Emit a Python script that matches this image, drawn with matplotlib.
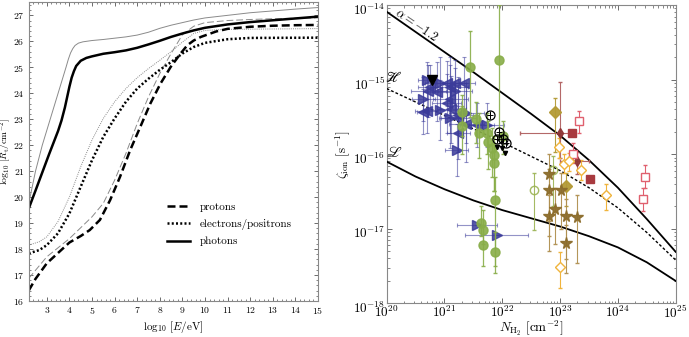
import numpy as np
import matplotlib
matplotlib.use("Agg")
import matplotlib.pyplot as plt
from matplotlib.ticker import MultipleLocator, LogLocator, NullFormatter, FixedLocator
from matplotlib.lines import Line2D
from matplotlib.transforms import ScaledTranslation

plt.rcParams['font.family'] = 'serif'
plt.rcParams['font.serif'] = ['cmr10', 'DejaVu Serif']
plt.rcParams['mathtext.fontset'] = 'cm'
plt.rcParams['axes.formatter.use_mathtext'] = True
plt.rcParams['axes.unicode_minus'] = False

# ---------------- Left panel data (log10 E [eV], log10 R [cm^-2]) ----------------
ph_thick_x = [2.2, 2.5, 2.8, 3.1, 3.3, 3.5, 3.65, 3.8, 3.9, 4.0, 4.1, 4.2, 4.3, 4.5, 4.75, 5.0, 5.5, 6.0, 6.5, 7.0, 7.5, 8.0, 8.5, 9.0, 9.5, 10, 11, 12, 13, 14, 15]
ph_thick_y = [19.56, 20.25, 20.95, 21.65, 22.1, 22.55, 22.95, 23.45, 23.85, 24.25, 24.6, 24.85, 25.05, 25.25, 25.36, 25.42, 25.52, 25.58, 25.65, 25.75, 25.88, 26.02, 26.17, 26.3, 26.42, 26.52, 26.65, 26.74, 26.81, 26.88, 26.95]
ph_thin_x = [2.2, 2.5, 2.8, 3.15, 3.5, 3.85, 3.95, 4.05, 4.15, 4.25, 4.4, 4.6, 5.0, 5.5, 6.0, 6.5, 7.0, 7.5, 8.0, 8.5, 9.0, 9.5, 10, 11, 12, 13, 14, 15]
ph_thin_y = [19.75, 21.0, 22.0, 23.0, 24.0, 25.0, 25.3, 25.55, 25.72, 25.84, 25.93, 25.98, 26.03, 26.07, 26.12, 26.17, 26.24, 26.35, 26.5, 26.62, 26.72, 26.82, 26.9, 27.0, 27.1, 27.17, 27.24, 27.3]
pr_thick_x = [2.2, 2.5, 3.0, 3.5, 4.0, 4.5, 4.9, 5.35, 5.8, 6.24, 6.69, 7.14, 7.58, 8.03, 8.48, 8.92, 9.22, 9.5, 9.82, 10.5, 11, 12, 13, 14, 15]
pr_thick_y = [16.4, 16.85, 17.45, 17.85, 18.25, 18.5, 18.73, 19.12, 19.88, 20.78, 21.81, 22.71, 23.6, 24.37, 25.01, 25.53, 25.85, 26.03, 26.17, 26.38, 26.48, 26.56, 26.6, 26.62, 26.63]
pr_thin_x = [2.2, 3.0, 4.0, 5.0, 5.5, 6.0, 6.5, 7.0, 7.5, 8.0, 8.5, 9.0, 9.5, 10, 11, 12, 13, 14, 15]
pr_thin_y = [16.87, 17.7, 18.4, 19.24, 19.76, 20.65, 21.68, 22.83, 23.86, 24.76, 25.53, 26.25, 26.58, 26.72, 26.8, 26.84, 26.87, 26.89, 26.9]
el_thick_x = [2.2, 2.67, 3.0, 3.49, 4.0, 4.5, 5.0, 5.5, 6.0, 6.5, 7.0, 7.5, 8.0, 8.5, 9.0, 9.5, 10, 11, 12, 15]
el_thick_y = [17.83, 17.96, 18.15, 18.6, 19.37, 20.4, 21.42, 22.32, 23.03, 23.67, 24.18, 24.56, 24.9, 25.2, 25.53, 25.78, 25.94, 26.08, 26.13, 26.14]
el_thin_x = [2.2, 2.67, 3.0, 3.49, 4.0, 4.5, 5.0, 5.5, 6.0, 6.5, 7.0, 7.5, 8.0, 8.5, 9.0, 9.5, 10, 11, 15]
el_thin_y = [18.15, 18.28, 18.47, 19.05, 20.0, 21.17, 22.2, 23.03, 23.67, 24.18, 24.6, 24.95, 25.27, 25.6, 25.97, 26.3, 26.42, 26.46, 26.49]

legend_labels = ["protons", "electrons/positrons", "photons"]

# ---------------- Right panel data (log10 values) ----------------
alpha_logN = [20.0, 20.5, 21.0, 21.5, 22.0, 22.5, 23.0, 23.5, 24.0, 24.25, 24.5, 24.75, 25.0]
alpha_logz = [-14.09, -14.36, -14.63, -14.90, -15.18, -15.46, -15.75, -16.08, -16.45, -16.66, -16.87, -17.09, -17.31]
H_logN = [20.0, 21.0, 22.0, 22.5, 23.0, 23.5, 24.0, 24.5, 25.0]
H_logz = [-15.12, -15.48, -15.84, -16.03, -16.22, -16.45, -16.72, -17.05, -17.42]
L_logN = [20.0, 20.5, 21.0, 21.5, 22.0, 22.5, 23.0, 23.5, 24.0, 24.5, 25.0]
L_logz = [-16.10, -16.30, -16.47, -16.62, -16.75, -16.86, -16.97, -17.10, -17.25, -17.45, -17.70]

x_major_exp = [20, 21, 22, 23, 24, 25]
y_major_exp = [-18, -17, -16, -15, -14]

# blue triangles
blue_logN = [20.70, 20.75, 20.92, 21.05, 21.10, 21.18, 21.33, 20.63, 20.72, 20.87, 21.10, 21.18, 20.69, 20.92, 21.12,
             21.24, 21.38, 21.10, 21.24, 21.38, 21.56, 21.73, 21.24, 21.21, 21.56, 21.90, 21.04, 20.63]
blue_logz = [-15.01, -15.10, -15.04, -15.05, -15.10, -15.04, -15.05, -15.26, -15.15, -15.16, -15.26, -15.15, -15.42, -15.41, -15.40,
             -15.47, -15.45, -15.52, -15.52, -15.60, -15.61, -15.61, -15.71, -15.94, -16.95, -17.08, -15.32, -15.43]
blue_mark = ['>', '<', '>', '<', '<', '<', '<', '>', '<', '<', '<', '>', '<', '>', '<',
             '<', '>', '>', '<', '<', '<', '>', '<', '>', '>', '>', '<', '<']
blue_xerr = [0.15, 0.2, 0.25, 0.2, 0.3, 0.2, 0.2, 0.2, 0.3, 0.25, 0.3, 0.3, 0.2, 0.3, 0.25,
             0.25, 0.3, 0.2, 0.3, 0.3, 0.3, 0.3, 0.2, 0.2, 0.35, 0.55, 0.25, 0.1]
blue_yerr = [0.25, 0.3, 0.35, 0.3, 0.4, 0.3, 0.35, 0.3, 0.35, 0.4, 0.45, 0.3, 0.3, 0.4, 0.45,
             0.5, 0.4, 0.4, 0.45, 0.5, 0.3, 0.3, 0.35, 0.35, 0.0, 0.0, 0.4, 0.3]

# green filled circles
green_logN = [21.45, 21.94, 21.31, 21.31, 21.55, 21.59, 21.73, 21.76, 21.82, 21.85, 21.86, 22.01, 21.88, 21.63, 21.66, 21.67, 21.87]
green_logz = [-14.83, -14.74, -15.43, -15.62, -15.53, -15.72, -15.72, -15.83, -15.92, -16.01, -16.12, -15.75, -16.61, -16.92, -17.02, -17.22, -17.31]
green_lo = [-15.50, -15.80, -15.75, -16.00, -15.85, -16.05, -16.0, -16.2, -16.3, -16.5, -16.5, -16.0, -17.5, -17.1, -17.2, -17.5, -17.6]
green_hi = [-14.35, -14.00, -15.20, -15.35, -15.30, -15.45, -15.45, -15.55, -15.65, -15.75, -15.85, -15.55, -16.30, -16.70, -16.75, -16.95, -17.05]

# black circled-plus
bk_logN = [21.78, 21.95, 21.90, 22.01, 22.06]
bk_logz = [-15.47, -15.70, -15.79, -15.79, -15.85]
# black upper limits
bklim_logN = [20.78, 21.90, 21.99, 22.05]
bklim_logz = [-15.01, -15.90, -15.92, -15.99]

# olive open circles
oc_logN = [22.55, 22.87]
oc_logz = [-16.48, -16.21]
oc_lo = [-17.02, -16.70]
oc_hi = [-16.25, -16.02]
# olive filled diamonds
od_logN = [22.91, 23.11]
od_logz = [-15.43, -16.43]
od_lo = [-15.97, -16.70]
od_hi = [-15.25, -16.25]
# dark red small diamonds
rd_logN = [23.00, 23.30]
rd_logz = [-15.72, -16.09]
rd_xlo = [22.31, 23.00]
rd_xhi = [23.23, 23.50]
rd_lo = [-16.05, -16.27]
rd_hi = [-15.03, -15.97]
# dark red filled squares
rs_logN = [23.20, 23.51]
rs_logz = [-15.72, -16.33]
# pink open squares
ps_logN = [23.33, 23.22, 24.47, 24.43]
ps_logz = [-15.56, -16.00, -16.31, -16.60]
ps_lo = [-15.71, -16.12, -16.45, -16.76]
ps_hi = [-15.42, -15.85, -16.14, -16.46]
# orange open diamonds
yd_logN = [22.98, 23.07, 23.15, 23.36, 23.79, 23.00]
yd_logz = [-15.91, -16.13, -16.09, -16.21, -16.55, -17.51]
yd_lo = [-16.05, -16.25, -16.22, -16.35, -16.75, -17.80]
yd_hi = [-15.78, -16.00, -15.98, -16.08, -16.40, -17.31]
# brown stars
st_logN = [22.80, 22.80, 23.01, 22.91, 22.80, 23.10, 23.30, 23.10]
st_logz = [-16.26, -16.48, -16.48, -16.73, -16.83, -16.83, -16.84, -17.19]
st_lo = [-16.90, -17.10, -17.00, -17.20, -17.30, -17.40, -17.46, -17.60]
st_hi = [-16.00, -16.20, -16.25, -16.45, -16.55, -16.60, -16.55, -16.95]

# ---------------- Figure ----------------
fig = plt.figure(figsize=(6.89, 3.37), dpi=100)
ax1 = fig.add_axes([0.0417, 0.107, 0.4198, 0.886])
ax2 = fig.add_axes([0.5612, 0.100, 0.4195, 0.885])

spine_col = '#888888'
for ax in (ax1, ax2):
    for s in ax.spines.values():
        s.set_color(spine_col)
        s.set_linewidth(0.8)
    ax.tick_params(which='both', direction='in', top=True, right=True, color='#555555')

# Left
thin_col = '#8a8a8a'
ax1.plot(ph_thin_x, ph_thin_y, color=thin_col, lw=0.7)
ax1.plot(pr_thin_x, pr_thin_y, color=thin_col, lw=0.7, dashes=(7, 3))
ax1.plot(el_thin_x, el_thin_y, color=thin_col, lw=0.7, dashes=(1, 1.2))
ax1.plot(pr_thick_x, pr_thick_y, color='black', lw=1.8, dashes=(3.2, 1.6))
ax1.plot(el_thick_x, el_thick_y, color='black', lw=1.8, dashes=(0.8, 0.9))
ax1.plot(ph_thick_x, ph_thick_y, color='black', lw=1.8)
ax1.set_xlim(2.2, 15)
ax1.set_ylim(16, 27.5)
ax1.xaxis.set_major_locator(MultipleLocator(1))
ax1.xaxis.set_minor_locator(MultipleLocator(0.2))
ax1.yaxis.set_major_locator(MultipleLocator(1))
ax1.yaxis.set_minor_locator(MultipleLocator(0.2))
ax1.tick_params(which='major', length=3, width=0.6, labelsize=7, pad=3)
ax1.tick_params(which='minor', length=1.5, width=0.5)
ax1.set_xlabel(r'$\log_{10}\,[E/\mathrm{eV}]$', fontsize=8, labelpad=2)
ax1.set_ylabel(r'$\log_{10}\,[R_{\rm t}/\mathrm{cm}^{-2}]$', fontsize=7)
ax1.yaxis.set_label_coords(-0.055, 0.5)
handles = [Line2D([], [], color='black', lw=1.8, dashes=(3.2, 1.6)),
           Line2D([], [], color='black', lw=1.8, dashes=(0.8, 0.9)),
           Line2D([], [], color='black', lw=1.8)]
ax1.legend(handles, legend_labels, loc='upper left', bbox_to_anchor=(0.46, 0.348), frameon=False,
           fontsize=8, handlelength=2.0, handletextpad=0.9, labelspacing=0.6, borderpad=0)

# Right
ax2.set_xscale('log')
ax2.set_yscale('log')
ax2.set_xlim(1e20, 1e25)
ax2.set_ylim(1e-18, 1e-14)
p10 = lambda a: 10 ** np.asarray(a, dtype=float)

ax2.plot(p10(alpha_logN), p10(alpha_logz), color='black', lw=1.3, zorder=3)
ax2.plot(p10(H_logN), p10(H_logz), color='black', lw=1.0, dashes=(2, 1.5), zorder=3)
ax2.plot(p10(L_logN), p10(L_logz), color='black', lw=1.3, zorder=3)

blue = '#3b3b9a'
bx = np.asarray(blue_logN); by = np.asarray(blue_logz)
bxe = np.asarray(blue_xerr); bye = np.asarray(blue_yerr)
for i in range(len(bx)):
    x = 10 ** bx[i]; y = 10 ** by[i]
    xerr = [[x - 10 ** (bx[i] - bxe[i])], [10 ** (bx[i] + bxe[i]) - x]]
    yerr = [[y - 10 ** (by[i] - bye[i])], [10 ** (by[i] + bye[i]) - y]]
    ax2.errorbar(x, y, xerr=xerr, yerr=yerr, fmt='none', ecolor=blue, alpha=0.55, elinewidth=0.8,
                 capsize=1.5, capthick=0.8, zorder=4)
    ax2.plot(x, y, marker=blue_mark[i], color=blue, ms=6.5, alpha=0.85, ls='none', zorder=5)

green = '#88ad48'
gx = p10(green_logN); gy = p10(green_logz)
ax2.errorbar(gx, gy, yerr=[gy - p10(green_lo), p10(green_hi) - gy], fmt='o', color=green, ms=6.5,
             ecolor=green, elinewidth=0.9, capsize=1.5, alpha=0.9, zorder=5)

kx = p10(bk_logN); ky = p10(bk_logz)
ax2.errorbar(kx, ky, xerr=0.08 * kx, yerr=0.12 * ky, fmt='o', mfc='none', mec='black', ms=6.5,
             mew=0.9, ecolor='black', elinewidth=0.7, capsize=0, zorder=6)
ax2.plot(kx, ky, '+', color='black', ms=5, mew=0.7, ls='none', zorder=6)
lx = p10(bklim_logN); ly = p10(bklim_logz)
ax2.plot(lx[:1], ly[:1], 'v', color='black', ms=6.5, ls='none', zorder=6)
ax2.plot(lx[1:], ly[1:], 'v', color='black', ms=3, ls='none', zorder=6)

olive = '#9bb352'
cx = p10(oc_logN); cy = p10(oc_logz)
ax2.errorbar(cx, cy, yerr=[cy - p10(oc_lo), p10(oc_hi) - cy], fmt='o', mfc='none', mec=olive, ms=6, mew=1.0,
             ecolor=olive, elinewidth=0.8, capsize=1.5, alpha=0.9, zorder=5)
odc = '#b39a35'
dx = p10(od_logN); dy = p10(od_logz)
ax2.errorbar(dx, dy, yerr=[dy - p10(od_lo), p10(od_hi) - dy], fmt='D', color=odc, ms=6,
             ecolor=odc, elinewidth=0.8, capsize=1.5, alpha=0.95, zorder=5)
rdc = '#8e3535'
rx = p10(rd_logN); ry = p10(rd_logz)
ax2.errorbar(rx, ry, xerr=[rx - p10(rd_xlo), p10(rd_xhi) - rx], yerr=[ry - p10(rd_lo), p10(rd_hi) - ry],
             fmt='d', color=rdc, ms=5.5, ecolor='#b06060', elinewidth=0.8, capsize=1.5, alpha=0.95, zorder=5)
rsc = '#a83a3f'
ax2.plot(p10(rs_logN), p10(rs_logz), 's', color=rsc, ms=6, ls='none', zorder=5)
pkc = '#e0606e'
sx = p10(ps_logN); sy = p10(ps_logz)
ax2.errorbar(sx, sy, yerr=[sy - p10(ps_lo), p10(ps_hi) - sy], fmt='s', mfc='white', mec=pkc, ms=6, mew=1.0,
             ecolor=pkc, elinewidth=0.8, capsize=1.5, zorder=5)
orc = '#f0b43c'
yx = p10(yd_logN); yy = p10(yd_logz)
ax2.errorbar(yx, yy, yerr=[yy - p10(yd_lo), p10(yd_hi) - yy], fmt='D', mfc='white', mec=orc, ms=5.5, mew=1.0,
             ecolor=orc, elinewidth=0.8, capsize=1.5, zorder=5)
stc = '#8c6d2c'
tx = p10(st_logN); ty = p10(st_logz)
ax2.errorbar(tx, ty, yerr=[ty - p10(st_lo), p10(st_hi) - ty], fmt='*', color=stc, ms=8.5,
             ecolor='#b09050', elinewidth=0.8, capsize=1.5, alpha=0.95, zorder=5)

ax2.text(10 ** 20.52, 10 ** -14.27, r'$\alpha = -1.2$', rotation=-34, ha='center', va='center', fontsize=9)
ax2.text(10 ** 20.1, 10 ** -14.98, '\u210B', ha='center', va='center', fontsize=11, family='STIXGeneral')
ax2.text(10 ** 20.12, 10 ** -15.99, '\u2112', ha='center', va='center', fontsize=11, family='STIXGeneral')

ax2.xaxis.set_major_locator(FixedLocator(p10(x_major_exp)))
ax2.xaxis.set_minor_locator(LogLocator(base=10, subs=np.arange(2, 10), numticks=20))
ax2.xaxis.set_minor_formatter(NullFormatter())
ax2.yaxis.set_major_locator(FixedLocator(p10(y_major_exp)))
ax2.yaxis.set_minor_locator(LogLocator(base=10, subs=np.arange(2, 10), numticks=20))
ax2.yaxis.set_minor_formatter(NullFormatter())
ax2.tick_params(which='major', length=3.5, width=0.6, labelsize=9.5, pad=1)
ax2.tick_params(which='minor', length=1.8, width=0.5)
ax2.set_xlabel(r'$N_{\rm H_2}\ [\mathrm{cm}^{-2}]$', fontsize=9.5, labelpad=-1.5)
ax2.set_ylabel(r'$\zeta_{\rm ion}\ [\mathrm{s}^{-1}]$', fontsize=9.5, labelpad=1)

fig.canvas.draw()
shift = ScaledTranslation(0, -2.5 / 72, fig.dpi_scale_trans)
for lab in ax2.get_yticklabels():
    lab.set_transform(lab.get_transform() + shift)

fig.savefig('out.png', dpi=100)
